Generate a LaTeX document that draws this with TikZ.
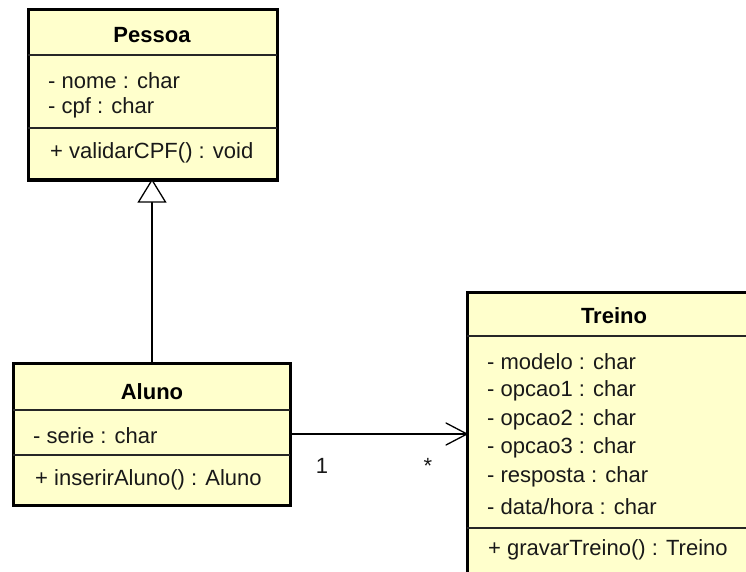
\documentclass[tikz,border=0pt]{standalone}
\usepackage{fontspec}
\setmainfont{Liberation Sans}
\begin{document}
\begin{tikzpicture}[x=1pt,y=-1pt,
  box/.style={draw=black,line width=3pt,fill=umlfill},
  divider/.style={draw=black!85,line width=1.2pt},
  title/.style={font=\fontsize{22}{25}\selectfont\bfseries,inner sep=0pt},
  member/.style={font=\fontsize{22}{25}\selectfont,anchor=west,inner sep=0pt,text=black!90},
  mult/.style={font=\fontsize{22}{25}\selectfont,inner sep=0pt,text=black!90},
  conn/.style={draw=black,line width=1.3pt}]
\definecolor{umlfill}{RGB}{255,255,204}
\clip (0,0) rectangle (746,572);
\fill[white] (0,0) rectangle (746,572);
% Pessoa
\draw[box] (28,10) rectangle (277,180);
\coordinate (pessoaBottom) at (152,180);
\draw[divider] (28,55) -- (277,55);
\draw[divider] (28,128) -- (277,128);
\node[title] (pessoaT) at (152,35) {Pessoa};
\node[member] (pessoaA1) at (48,81) {- nome : char};
\node[member] (pessoaA2) at (48,108) {- cpf : char};
\node[member] (pessoaM1) at (50,153) {+ validarCPF() : void};
% Aluno
\draw[box] (13,363) rectangle (290,505);
\coordinate (alunoTop) at (152,363);
\coordinate (alunoRight) at (290,434);
\draw[divider] (13,410) -- (290,410);
\draw[divider] (13,455) -- (290,455);
\node[title] (alunoT) at (152,392) {Aluno};
\node[member] (alunoA1) at (33,436) {- serie : char};
\node[member] (alunoM1) at (35,480) {+ inserirAluno() : Aluno};
% Treino
\draw[box] (467,292) rectangle (762,590);
\coordinate (treinoLeft) at (467,434);
\draw[divider] (467,336) -- (762,336);
\draw[divider] (467,528) -- (762,528);
\node[title] (treinoT) at (614,316) {Treino};
\node[member] (treinoA1) at (487,362) {- modelo : char};
\node[member] (treinoA2) at (487,391) {- opcao1 : char};
\node[member] (treinoA3) at (487,420) {- opcao2 : char};
\node[member] (treinoA4) at (487,448) {- opcao3 : char};
\node[member] (treinoA5) at (487,477) {- resposta : char};
\node[member] (treinoA6) at (487,507) {- data/hora : char};
\node[member] (treinoM1) at (488,550) {+ gravarTreino() : Treino};
% generalization
\coordinate (triBase) at (152,202);
\draw[conn] (alunoTop) -- (triBase);
\draw[conn,fill=white,line join=miter] (pessoaBottom) -- (138.5,202) -- (165.5,202) -- cycle;
% association
\draw[conn] (alunoRight) -- (treinoLeft);
\draw[conn,line cap=round] (446,423) -- (treinoLeft) -- (446,445);
\node[mult] (m1) at (322,466) {1};
\node[mult] (m2) at (428,466) {*};
\end{tikzpicture}
\end{document}
